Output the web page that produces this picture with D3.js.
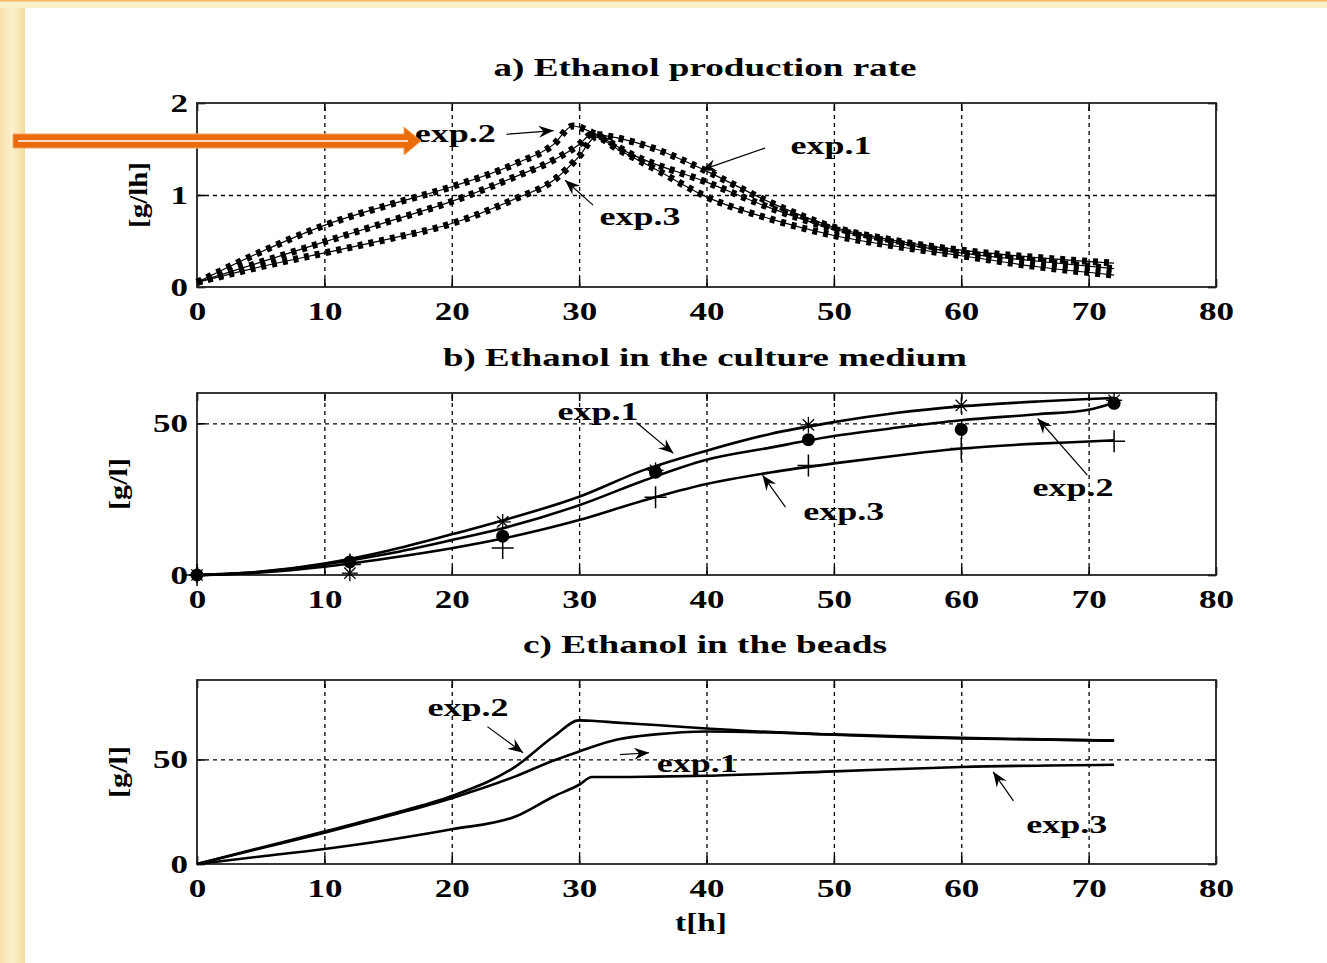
<!DOCTYPE html>
<html>
<head>
<meta charset="utf-8">
<script src="https://cdn.jsdelivr.net/npm/d3@7"></script>
<style>
    body { margin: 0; background: #fff; }
    svg text { font-family: 'Liberation Serif', 'Times New Roman', serif; font-weight: bold; fill: #000; }
</style>
</head>
<body>
<svg id="chart" width="1327" height="963"></svg>
<script>
// x ticks shared by the 3 panels
const xTicks = [0, 10, 20, 30, 40, 50, 60, 70, 80]

// a) ethanol production rate [g/lh]
const rateT1 = [0, 5, 10, 15, 20, 25, 28, 30, 31, 33, 36, 40, 45, 50, 55, 60, 66, 72]
const rateExp1 = [0.05, 0.27, 0.49, 0.71, 0.93, 1.2, 1.38, 1.55, 1.66, 1.62, 1.5, 1.26, 0.92, 0.65, 0.5, 0.4, 0.32, 0.26]
const rateT2 = [0, 5, 10, 15, 20, 25, 28, 29.5, 31, 34, 40, 45, 50, 55, 60, 66, 72]
const rateExp2 = [0.05, 0.38, 0.67, 0.89, 1.09, 1.34, 1.55, 1.75, 1.68, 1.45, 1.14, 0.86, 0.63, 0.48, 0.37, 0.28, 0.2]
const rateT3 = [0, 5, 10, 15, 20, 25, 28, 30, 31.3, 33, 36, 40, 45, 50, 55, 60, 66, 72]
const rateExp3 = [0.05, 0.22, 0.37, 0.52, 0.69, 0.96, 1.16, 1.42, 1.63, 1.5, 1.28, 0.98, 0.74, 0.56, 0.44, 0.34, 0.22, 0.13]

// b) ethanol in the culture medium [g/l], model lines
const medT = [0, 5, 10, 15, 20, 24, 30, 35, 40, 45, 50, 55, 60, 66, 70, 72]
const medExp1 = [0, 1.1, 3.8, 8, 13.4, 18, 25.8, 34.5, 41, 46.5, 50.4, 53.5, 55.6, 57.2, 58, 58.4]
const medExp2 = [0, 1.0, 3.5, 7, 11.5, 15.4, 23, 31, 38, 42, 45.8, 48.6, 51, 53, 54.5, 56.8]
const medExp3 = [0, 0.8, 2.7, 5.5, 8.8, 12, 18.1, 24.5, 30, 33.8, 36.8, 39.4, 41.7, 43.3, 44, 44.4]
// b) measured points
const sampleT = [0, 12, 24, 36, 48, 60, 72]
const sampleExp1 = [0, 0.6, 17.5, 34.5, 49.5, 55.9, 57.6]
const sampleExp2 = [0, 4.3, 12.8, 33.9, 44.6, 48.0, 56.6]
const sampleExp3 = [0, 3.5, 8.9, 25.6, 36.1, 41.7, 44.1]

// c) ethanol in the beads [g/l]
const beadT = [0, 5, 10, 15, 20, 25, 28, 30, 31, 33, 36, 40, 50, 60, 72]
const beadExp1 = [0, 7.5, 15, 23, 31.5, 41.9, 49.5, 53.8, 56, 59.5, 62, 63.4, 62, 60.3, 59]
const beadExp2 = [0, 7.8, 15.5, 23.5, 32.5, 46.6, 61, 68.7, 68.5, 67.6, 66.5, 64.8, 61.8, 60, 59]
const beadExp3 = [0, 3.6, 7.2, 11.5, 16.6, 22.7, 32.3, 37.9, 41.6, 41.6, 41.8, 42.2, 44.3, 46.4, 47.5]

const svg = d3.select('#chart')

// slide background
const grad = svg.append('defs').append('linearGradient').attr('id', 'paper')
grad.append('stop').attr('offset', '0%').attr('stop-color', '#f6e2a8')
grad.append('stop').attr('offset', '50%').attr('stop-color', '#fcf1cf')
grad.append('stop').attr('offset', '100%').attr('stop-color', '#f3dc9c')
svg.append('rect').attr('width', 1327).attr('height', 963).attr('fill', '#fff')
svg.append('rect').attr('width', 25).attr('height', 963).attr('fill', 'url(#paper)')
svg.append('rect').attr('width', 1327).attr('height', 8).attr('fill', '#fbefc9')
svg.append('rect').attr('width', 1327).attr('height', 1.5).attr('fill', '#f2b65e')

// arrow head for the annotations
svg.select('defs').append('marker')
    .attr('id', 'head')
    .attr('viewBox', '-16 -7 18 14')
    .attr('markerWidth', 18).attr('markerHeight', 14)
    .attr('markerUnits', 'userSpaceOnUse')
    .attr('orient', 'auto')
    .append('path')
    .attr('d', 'M0,0 L-15,-6 L-10,0 L-15,6 Z')
    .attr('fill', '#000')

const x = d3.scaleLinear().domain([0, 80]).range([197, 1216])

function stretchText(g, px, py, str, width, anchor) {
    return g.append('text')
        .attr('x', px).attr('y', py)
        .attr('text-anchor', anchor || 'start')
        .attr('textLength', width)
        .attr('lengthAdjust', 'spacingAndGlyphs')
        .style('font-size', '25px')
        .text(str)
}

function panel(top, bottom, yMax, yTicks, gridY, title, titleW, ylab, ylabX, ylabW) {
    const y = d3.scaleLinear().domain([0, yMax]).range([bottom, top])
    const g = svg.append('g')
    const h = bottom - top

    //dashed grid
    g.append('g').attr('transform', `translate(0,${bottom})`)
        .call(d3.axisBottom(x).tickValues(xTicks.slice(1, -1)).tickSize(-h).tickFormat(''))
        .call(a => a.select('.domain').remove())
        .selectAll('line').attr('stroke', '#000').attr('stroke-width', 1.3).attr('stroke-dasharray', '4,4')
    g.append('g').attr('transform', 'translate(197,0)')
        .call(d3.axisLeft(y).tickValues(gridY).tickSize(-(1216 - 197)).tickFormat(''))
        .call(a => a.select('.domain').remove())
        .selectAll('line').attr('stroke', '#000').attr('stroke-width', 1.3).attr('stroke-dasharray', '4,4')

    //inward ticks on all four sides
    const bx = g.append('g').attr('transform', `translate(0,${bottom})`)
        .call(d3.axisBottom(x).tickValues(xTicks).tickSize(-8).tickFormat(d3.format('d')))
    bx.select('.domain').remove()
    bx.selectAll('line').attr('stroke', '#000').attr('stroke-width', 1.6)
    bx.selectAll('text').attr('y', 33).attr('dy', 0)
        .attr('fill', '#000').style('font-size', '25px')
        .attr('textLength', d => String(d).length * 17.5)
        .attr('lengthAdjust', 'spacingAndGlyphs')
    g.append('g').attr('transform', `translate(0,${top})`)
        .call(d3.axisTop(x).tickValues(xTicks).tickSize(-8).tickFormat(''))
        .call(a => a.select('.domain').remove())
        .selectAll('line').attr('stroke', '#000').attr('stroke-width', 1.6)
    const ly = g.append('g').attr('transform', 'translate(197,0)')
        .call(d3.axisLeft(y).tickValues(yTicks).tickSize(-8).tickFormat(d3.format('d')))
    ly.select('.domain').remove()
    ly.selectAll('line').attr('stroke', '#000').attr('stroke-width', 1.6)
    ly.selectAll('text').attr('x', -9).attr('dy', 8)
        .attr('fill', '#000').style('font-size', '25px')
        .attr('textLength', d => String(d).length * 17.5)
        .attr('lengthAdjust', 'spacingAndGlyphs')
    g.append('g').attr('transform', 'translate(1216,0)')
        .call(d3.axisRight(y).tickValues(yTicks).tickSize(-8).tickFormat(''))
        .call(a => a.select('.domain').remove())
        .selectAll('line').attr('stroke', '#000').attr('stroke-width', 1.6)

    //frame
    g.append('rect')
        .attr('x', 197).attr('y', top).attr('width', 1216 - 197).attr('height', h)
        .attr('fill', 'none').attr('stroke', '#222').attr('stroke-width', 1.8)

    //title and y label
    stretchText(g, 705, top - 27, title, titleW, 'middle')
    stretchText(g, 0, 0, ylab, ylabW, 'middle')
        .attr('transform', `translate(${ylabX},${(top + bottom) / 2}) rotate(-90)`)
        .attr('dy', '0.35em')

    return { g: g, y: y }
}

function note(p, item) {
    stretchText(p.g, x(item.tx), p.y(item.ty), item.label, 81)
    p.g.append('line')
        .attr('x1', x(item.from[0])).attr('y1', p.y(item.from[1]))
        .attr('x2', x(item.to[0])).attr('y2', p.y(item.to[1]))
        .attr('stroke', '#000').attr('stroke-width', 1.2)
        .attr('marker-end', 'url(#head)')
}

function lineOf(p, ts, vs) {
    return d3.line()
        .x((d, i) => x(ts[i]))
        .y(d => p.y(d))
        .curve(d3.curveMonotoneX)(vs)
}

// ---------- a) rate ----------
const pa = panel(103, 287, 2, [0, 1, 2], [1], 'a) Ethanol production rate', 423, '[g/lh]', 138, 66)
const rateSeries = [[rateT1, rateExp1], [rateT2, rateExp2], [rateT3, rateExp3]]
rateSeries.forEach(s => {
    //thin line plus dense star markers
    pa.g.append('path').attr('d', lineOf(pa, s[0], s[1]))
        .attr('fill', 'none').attr('stroke', '#000').attr('stroke-width', 1.2)
    pa.g.append('path').attr('d', lineOf(pa, s[0], s[1]))
        .attr('fill', 'none').attr('stroke', '#000').attr('stroke-width', 7)
        .attr('stroke-dasharray', '5,6')
})
note(pa, { label: 'exp.2', tx: 17.1, ty: 1.58, from: [24.3, 1.66], to: [28.0, 1.70] })
note(pa, { label: 'exp.1', tx: 46.6, ty: 1.45, from: [44.6, 1.51], to: [39.6, 1.27] })
note(pa, { label: 'exp.3', tx: 31.6, ty: 0.67, from: [31.1, 0.89], to: [28.9, 1.16] })

// ---------- b) culture medium ----------
const pb = panel(393, 575, 60, [0, 50], [50], 'b) Ethanol in the culture medium', 524, '[g/l]', 118, 52)
;[medExp1, medExp2, medExp3].forEach(vs => {
    pb.g.append('path').attr('d', lineOf(pb, medT, vs))
        .attr('fill', 'none').attr('stroke', '#000').attr('stroke-width', 2.6)
})
// exp.1 asterisks
sampleT.forEach((t, i) => {
    const cx = x(t), cy = pb.y(sampleExp1[i])
    ;[0, 45, 90, 135].forEach(a => {
        pb.g.append('line')
            .attr('x1', cx - 8).attr('y1', cy).attr('x2', cx + 8).attr('y2', cy)
            .attr('transform', `rotate(${a},${cx},${cy})`)
            .attr('stroke', '#000').attr('stroke-width', 1.3)
    })
})
// exp.2 filled circles
pb.g.selectAll('.dot').data(sampleExp2).enter().append('circle')
    .attr('cx', (d, i) => x(sampleT[i])).attr('cy', d => pb.y(d))
    .attr('r', 6.5).attr('fill', '#000')
// exp.3 plus signs
sampleT.forEach((t, i) => {
    const cx = x(t), cy = pb.y(sampleExp3[i])
    pb.g.append('path')
        .attr('d', `M${cx - 11},${cy}H${cx + 11}M${cx},${cy - 11}V${cy + 11}`)
        .attr('stroke', '#000').attr('stroke-width', 1.5)
})
note(pb, { label: 'exp.1', tx: 28.3, ty: 51, from: [34.5, 50.3], to: [37.4, 40.1] })
note(pb, { label: 'exp.3', tx: 47.6, ty: 18.1, from: [46.2, 22.4], to: [44.4, 32.9] })
note(pb, { label: 'exp.2', tx: 65.6, ty: 26, from: [69.9, 32.9], to: [66.0, 51.6] })

// ---------- c) beads ----------
const pc = panel(680, 864, 88, [0, 50], [50], 'c) Ethanol in the beads', 364, '[g/l]', 118, 52)
;[beadExp1, beadExp2, beadExp3].forEach(vs => {
    pc.g.append('path').attr('d', lineOf(pc, beadT, vs))
        .attr('fill', 'none').attr('stroke', '#000').attr('stroke-width', 2.6)
})
note(pc, { label: 'exp.2', tx: 18.1, ty: 70.9, from: [22.8, 65.7], to: [25.6, 53.2] })
note(pc, { label: 'exp.1', tx: 36.1, ty: 44.1, from: [33.2, 52.3], to: [35.5, 53.2] })
note(pc, { label: 'exp.3', tx: 65.1, ty: 14.9, from: [64.1, 30.2], to: [62.5, 44.1] })

//x label
stretchText(svg, 701, 931, 't[h]', 52, 'middle')

//orange slide arrow pointing at exp.2
svg.append('path')
    .attr('d', 'M13,134 L404,134 L404,127 L421,141 L404,155 L404,148 L13,148 Z')
    .attr('fill', '#ea6c0c').attr('stroke', '#f3a565').attr('stroke-width', 1)
svg.append('line')
    .attr('x1', 18).attr('y1', 141).attr('x2', 408).attr('y2', 141)
    .attr('stroke', '#fff').attr('stroke-width', 1.6)
</script>
</body>
</html>
